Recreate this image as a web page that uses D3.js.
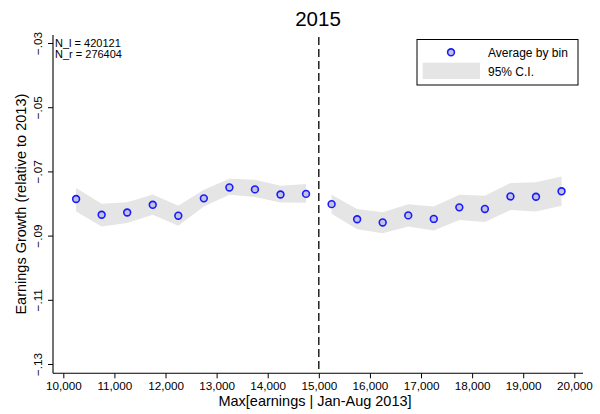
<!DOCTYPE html>
<html>
<head>
<meta charset="utf-8">
<script src="https://cdn.jsdelivr.net/npm/d3@7"></script>
<style>
  html, body { margin: 0; padding: 0; background: #fff; }
  text { font-family: "Liberation Sans", Arial, sans-serif; fill: #000; }
</style>
</head>
<body>
<svg id="chart" width="600" height="414"></svg>
<script>
// ---- data ----
const title = "2015";
const xTitle = "Max[earnings | Jan-Aug 2013]";
const yTitle = "Earnings Growth (relative to 2013)";
const nLeftLabel = "N_l = 420121";
const nRightLabel = "N_r = 276404";
const cutoff = 15000;

const leftBins  = [10250, 10750, 11250, 11750, 12250, 12750, 13250, 13750, 14250, 14750];
const leftMean  = [-0.0786, -0.0835, -0.0828, -0.0804, -0.0838, -0.0784, -0.0750, -0.0756, -0.0772, -0.0770];
const leftUpper = [-0.0752, -0.0801, -0.0796, -0.0772, -0.0807, -0.0757, -0.0723, -0.0726, -0.0745, -0.0739];
const leftLower = [-0.0825, -0.0872, -0.0861, -0.0835, -0.0869, -0.0809, -0.0773, -0.0780, -0.0797, -0.0798];

const rightBins  = [15250, 15750, 16250, 16750, 17250, 17750, 18250, 18750, 19250, 19750];
const rightMean  = [-0.0802, -0.0849, -0.0859, -0.0837, -0.0848, -0.0812, -0.0817, -0.0778, -0.0779, -0.0762];
const rightUpper = [-0.0773, -0.0817, -0.0827, -0.0802, -0.0809, -0.0773, -0.0776, -0.0736, -0.0734, -0.0716];
const rightLower = [-0.0832, -0.0880, -0.0893, -0.0872, -0.0884, -0.0851, -0.0858, -0.0820, -0.0825, -0.0807];

const xTicks = [10000, 11000, 12000, 13000, 14000, 15000, 16000, 17000, 18000, 19000, 20000];
const yTicks = [-0.03, -0.05, -0.07, -0.09, -0.11, -0.13];
const legendLabels = ["Average by bin", "95% C.I."];

// ---- layout ----
const svg = d3.select("#chart");
const plot = { left: 53, right: 583, top: 35, bottom: 373.3 };

const x = d3.scaleLinear().domain([9798, 20170]).range([plot.left, plot.right]);
const y = d3.scaleLinear().domain([-0.1329, -0.0275]).range([plot.bottom, plot.top]);

const bandColor = "#e5e5e5";
const markerFill = "#c0c4dc";
const markerStroke = "#1a1aff";

function toRows(bins, m, u, l) {
  return bins.map((b, i) => ({ x: b, m: m[i], u: u[i], l: l[i] }));
}
const left = toRows(leftBins, leftMean, leftUpper, leftLower);
const right = toRows(rightBins, rightMean, rightUpper, rightLower);

const area = d3.area().x(d => x(d.x)).y0(d => y(d.l)).y1(d => y(d.u));

[left, right].forEach(rows => {
  svg.append("path").datum(rows).attr("d", area).attr("fill", bandColor).attr("stroke", "none");
});

// cutoff dashed line
svg.append("line")
  .attr("x1", x(cutoff)).attr("x2", x(cutoff))
  .attr("y1", plot.top + 2).attr("y2", plot.bottom)
  .attr("stroke", "#000").attr("stroke-width", 1.3)
  .attr("stroke-dasharray", "8,4");

// points
[left, right].forEach(rows => {
  svg.append("g").selectAll("circle").data(rows).join("circle")
    .attr("cx", d => x(d.x)).attr("cy", d => y(d.m)).attr("r", 3.4)
    .attr("fill", markerFill).attr("stroke", markerStroke).attr("stroke-width", 1.6);
});

// axes
const xAxis = d3.axisBottom(x).tickValues(xTicks).tickSize(5).tickPadding(3)
  .tickFormat(d3.format(",")).tickSizeOuter(0);
const gx = svg.append("g").attr("transform", `translate(0,${plot.bottom})`).call(xAxis);
gx.select(".domain").attr("d", `M${plot.left},0H${plot.right}`).attr("stroke-width", 1.1);
gx.selectAll("text").style("font-size", "11.7px").attr("dy", "0.71em");

const yAxis = d3.axisLeft(y).tickValues(yTicks).tickSize(5).tickSizeOuter(0)
  .tickFormat(d => d3.format(".2f")(d).replace("0.", "."));
const gy = svg.append("g").attr("transform", `translate(${plot.left},0)`).call(yAxis);
gy.select(".domain").attr("d", `M0,${plot.top}V${plot.bottom}`).attr("stroke-width", 1.1);
gy.selectAll("text")
  .attr("x", null).attr("dy", null)
  .attr("transform", "translate(-11,0) rotate(-90)")
  .attr("text-anchor", "middle")
  .style("font-size", "11.7px");
svg.selectAll(".tick line").attr("stroke-width", 1);
gx.attr("font-family", null); gy.attr("font-family", null);

// titles
svg.append("text").attr("x", (plot.left + plot.right) / 2).attr("y", 25.5)
  .attr("text-anchor", "middle").style("font-size", "20.5px").text(title);
svg.append("text").attr("x", (plot.left + plot.right) / 2 - 3).attr("y", 406)
  .attr("text-anchor", "middle").style("font-size", "14.5px").text(xTitle);
svg.append("text").attr("transform", `translate(26,${(plot.top + plot.bottom) / 2}) rotate(-90)`)
  .attr("text-anchor", "middle").style("font-size", "14.5px").text(yTitle);

// N labels
svg.append("text").attr("x", 55).attr("y", 46.5).style("font-size", "11px").text(nLeftLabel);
svg.append("text").attr("x", 55).attr("y", 58).style("font-size", "11px").text(nRightLabel);

// legend
const lg = svg.append("g");
lg.append("rect").attr("x", 417).attr("y", 39.5).attr("width", 161).attr("height", 45.5)
  .attr("fill", "#fff").attr("stroke", "#000").attr("stroke-width", 1);
lg.append("circle").attr("cx", 451).attr("cy", 52.3).attr("r", 3.4)
  .attr("fill", markerFill).attr("stroke", markerStroke).attr("stroke-width", 1.6);
lg.append("rect").attr("x", 422.7).attr("y", 62.7).attr("width", 57.3).attr("height", 16.3)
  .attr("fill", bandColor);
lg.append("text").attr("x", 488).attr("y", 56.5).style("font-size", "12px").text(legendLabels[0]);
lg.append("text").attr("x", 488).attr("y", 75.5).style("font-size", "12px").text(legendLabels[1]);
</script>
</body>
</html>
